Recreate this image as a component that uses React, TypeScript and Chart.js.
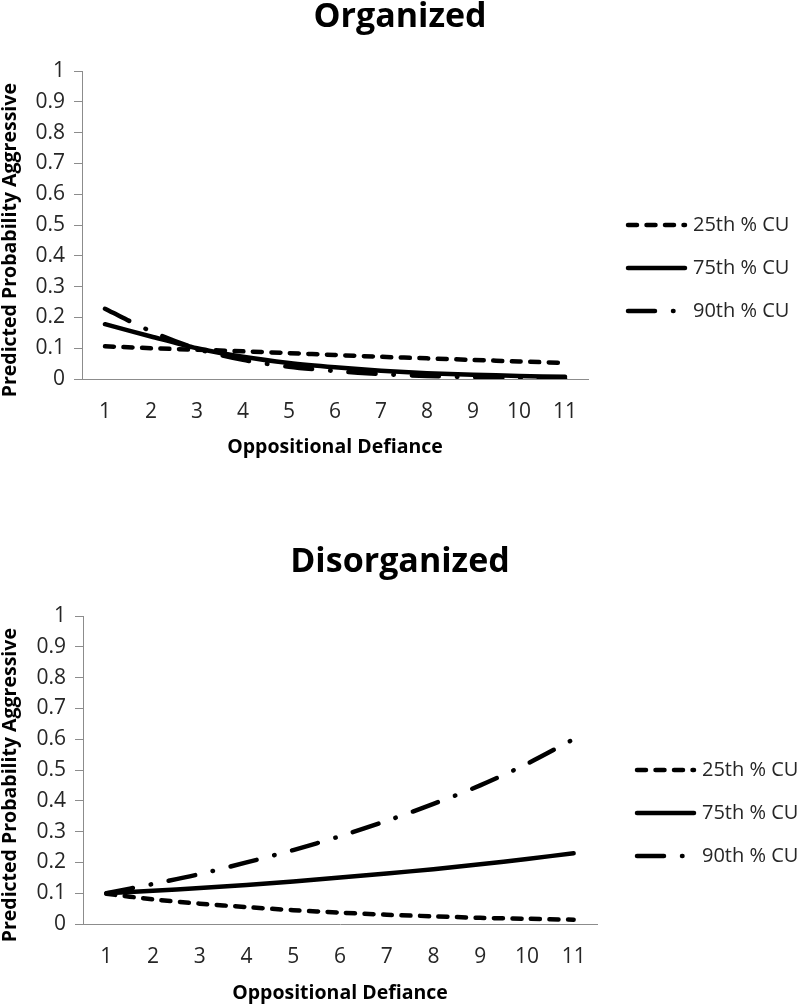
import React, { useEffect, useRef } from 'react';
import { Chart, registerables, layouts } from 'chart.js';

Chart.register(...registerables);

const categories = ['1', '2', '3', '4', '5', '6', '7', '8', '9', '10', '11'];
const yTickLabels = ['0', '0.1', '0.2', '0.3', '0.4', '0.5', '0.6', '0.7', '0.8', '0.9', '1'];
const seriesNames = ['25th % CU', '75th % CU', '90th % CU'];

const organized25 = [0.106, 0.100, 0.095, 0.090, 0.084, 0.078, 0.072, 0.067, 0.062, 0.057, 0.052];
const organized75 = [0.178, 0.138, 0.100, 0.072, 0.052, 0.038, 0.027, 0.019, 0.014, 0.010, 0.007];
const organized90 = [0.228, 0.155, 0.098, 0.062, 0.040, 0.026, 0.016, 0.010, 0.006, 0.004, 0.002];

const disorganized25 = [0.098, 0.080, 0.066, 0.055, 0.045, 0.037, 0.030, 0.025, 0.020, 0.017, 0.014];
const disorganized75 = [0.100, 0.108, 0.117, 0.127, 0.138, 0.151, 0.164, 0.178, 0.194, 0.211, 0.230];
const disorganized90 = [0.100, 0.130, 0.162, 0.200, 0.240, 0.285, 0.335, 0.390, 0.450, 0.520, 0.600];

const xTitle = 'Oppositional Defiance';
const yTitle = 'Predicted Probability Aggressive';

const FONT = "'Open Sans', 'Liberation Sans', sans-serif";
const AXIS_GRAY = '#8c8c8c';
const TEXT = '#262626';
const DASHES = [[9, 9.5], [], [27, 18, 0.5, 18]];

type PanelProps = {
  title: string;
  s25: number[];
  s75: number[];
  s90: number[];
  height: number;
  yWidth: number;
  legendWidth: number;
  xTitlePadBottom: number;
};

function makeLegendPlugin(width: number) {
  return {
    id: 'sideLegend',
    beforeInit(chart: any) {
      const box: any = {
        position: 'right',
        weight: 1000,
        fullSize: false,
        options: {},
        width: 0,
        height: 0,
        isHorizontal() {
          return false;
        },
        update(maxW: number, maxH: number) {
          this.width = width;
          this.height = maxH;
        },
        draw() {
          const ctx = chart.ctx;
          const area = chart.chartArea;
          const midY = (area.top + area.bottom) / 2;
          chart.data.datasets.forEach((ds: any, i: number) => {
            const y = midY + i * 43;
            const x0 = area.right + 40;
            const x1 = area.right + 97;
            ctx.save();
            ctx.strokeStyle = ds.borderColor;
            ctx.lineWidth = ds.borderWidth;
            ctx.lineCap = 'round';
            ctx.setLineDash(ds.borderDash || []);
            ctx.beginPath();
            ctx.moveTo(x0, y);
            ctx.lineTo(x1, y);
            ctx.stroke();
            ctx.setLineDash([]);
            ctx.fillStyle = TEXT;
            ctx.font = `20px ${FONT}`;
            ctx.textAlign = 'left';
            ctx.textBaseline = 'middle';
            ctx.fillText(ds.label, area.right + 105, y);
            ctx.restore();
          });
        },
      };
      layouts.addBox(chart, box);
    },
  };
}

function Panel(props: PanelProps) {
  const ref = useRef<HTMLCanvasElement | null>(null);
  useEffect(() => {
    if (!ref.current) return;
    const seriesData = [props.s25, props.s75, props.s90];
    const chart = new Chart(ref.current, {
      type: 'line',
      data: {
        labels: categories,
        datasets: seriesNames.map((name, i) => ({
          label: name,
          data: seriesData[i],
          borderColor: '#000000',
          backgroundColor: '#000000',
          borderWidth: 4.5,
          borderDash: DASHES[i],
          borderCapStyle: 'round',
          borderJoinStyle: 'round',
          pointRadius: 0,
          tension: 0.3,
          fill: false,
        })),
      },
      options: {
        responsive: false,
        animation: false,
        layout: { padding: 0 },
        plugins: {
          legend: { display: false },
          tooltip: { enabled: false },
          title: {
            display: true,
            text: props.title,
            color: '#000000',
            font: { family: FONT, size: 34, weight: 'bold', lineHeight: 1 },
            padding: { top: 0, bottom: 37 },
          },
        },
        scales: {
          x: {
            type: 'category',
            offset: true,
            grid: { display: false, drawTicks: false },
            border: { display: true, color: AXIS_GRAY, width: 1 },
            ticks: {
              color: TEXT,
              padding: 20,
              maxRotation: 0,
              autoSkip: false,
              font: { family: FONT, size: 21, lineHeight: 1.2 },
            },
            title: {
              display: true,
              text: xTitle,
              color: '#000000',
              font: { family: FONT, size: 19.5, weight: 'bold', lineHeight: 1.2 },
              padding: { top: 0, bottom: props.xTitlePadBottom },
            },
            afterFit(scale: any) {
              scale.height = props.height - 379;
            },
          },
          y: {
            type: 'linear',
            min: 0,
            max: 1,
            ticks: {
              stepSize: 0.1,
              color: TEXT,
              padding: 9,
              font: { family: FONT, size: 21, lineHeight: 1.2 },
              callback: (_v: any, index: number) => yTickLabels[index],
            },
            grid: {
              drawOnChartArea: false,
              drawTicks: true,
              tickLength: 8,
              color: AXIS_GRAY,
            },
            border: { display: true, color: AXIS_GRAY, width: 1 },
            title: {
              display: true,
              text: yTitle + '      ',
              color: '#000000',
              font: { family: FONT, size: 19.5, weight: 'bold', lineHeight: 1.1 },
              padding: { top: 0, bottom: 0 },
            },
            afterFit(scale: any) {
              scale.width = props.yWidth;
            },
          },
        },
      },
      plugins: [makeLegendPlugin(props.legendWidth)],
    } as any);
    return () => chart.destroy();
  }, []);
  return <canvas ref={ref} width={800} height={props.height} style={{ display: 'block', width: 800, height: props.height }} />;
}

export default function App() {
  return (
    <div style={{ position: 'absolute', left: 0, top: 0, width: 800, height: 1005, overflow: 'hidden', background: '#ffffff' }}>
      <div style={{ position: 'absolute', left: 0, top: 0 }}>
        <Panel title="Organized" s25={organized25} s75={organized75} s90={organized90}
          height={470} yWidth={82} legendWidth={212} xTitlePadBottom={11} />
      </div>
      <div style={{ position: 'absolute', left: 0, top: 545 }}>
        <Panel title="Disorganized" s25={disorganized25} s75={disorganized75} s90={disorganized90}
          height={460} yWidth={83} legendWidth={203} xTitlePadBottom={0} />
      </div>
    </div>
  );
}
